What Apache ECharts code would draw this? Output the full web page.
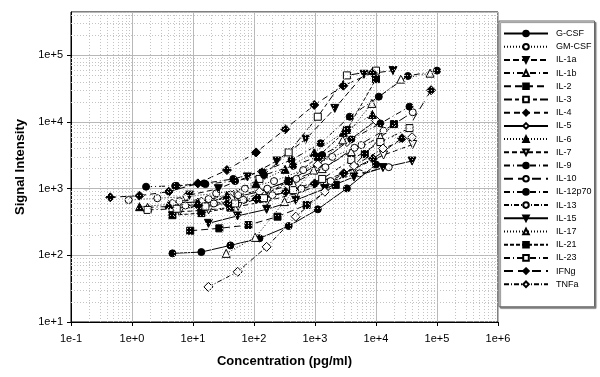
<!DOCTYPE html>
<html>
<head>
<meta charset="utf-8">
<title>Signal vs concentration</title>
<script src="https://cdn.jsdelivr.net/npm/echarts@6/dist/echarts.min.js"></script>
<style>
  html, body { margin: 0; padding: 0; background: #fff; }
  #main { width: 600px; height: 377px; }
</style>
</head>
<body>
<div id="main"></div>
<script>
// cytokine names (legend order)
var names = ['G-CSF', 'GM-CSF', 'IL-1a', 'IL-1b', 'IL-2', 'IL-3', 'IL-4', 'IL-5', 'IL-6', 'IL-7',
  'IL-9', 'IL-10', 'IL-12p70', 'IL-13', 'IL-15', 'IL-17', 'IL-21', 'IL-23', 'IFNg', 'TNFa'];

// concentration (pg/ml) and signal
var gcsfX = [4.6, 13.7, 41, 123, 370, 1111, 3333, 10000];
var gcsfY = [107, 112, 141, 180, 275, 490, 1010, 2300];
var gmcsfX = [0.88, 2.6, 7.9, 24, 71, 213, 640, 1920, 5760];
var gmcsfY = [675, 718, 760, 850, 1000, 1300, 1900, 3000, 4500];
var il1aX = [8.7, 26, 78, 235, 704, 2113, 6340, 19000];
var il1aY = [800, 1000, 1500, 2600, 5500, 16000, 52000, 59000];
var il1bX = [1.8, 5.4, 16, 49, 146, 437, 1312, 3936, 11800];
var il1bY = [524, 545, 590, 680, 850, 1200, 2000, 3600, 6000];
var il2X = [9, 27, 81, 243, 729, 2187, 6561, 19683];
var il2Y = [234, 254, 285, 380, 570, 1140, 3300, 9300];
var il3X = [4.6, 13.7, 41, 123, 370, 1111, 3333, 10000];
var il3Y = [480, 560, 800, 1400, 3500, 12000, 50000, 59000];
var il4X = [0.44, 1.33, 4, 12, 36, 108, 324, 972, 2916, 8748];
var il4Y = [742, 786, 900, 1200, 1900, 3500, 7800, 18000, 35000, 55000];
var il5X = [4.6, 13.7, 41, 123, 370, 1111, 3333, 10000];
var il5Y = [600, 640, 720, 900, 1300, 2300, 5000, 10500];
var il6X = [1.33, 4, 12, 36, 108, 324, 972, 2916, 8748];
var il6Y = [537, 580, 630, 800, 1200, 1950, 3500, 7000, 13000];
var il7X = [6, 18, 55, 165, 494, 1480, 4450, 13300, 40000];
var il7Y = [450, 480, 540, 650, 850, 1200, 2000, 3200, 4600];
var il9X = [1.7, 5.1, 15.2, 45.7, 137, 412, 1235, 3704, 11111, 33333, 100000];
var il9Y = [1070, 1100, 1200, 1400, 1800, 2700, 4800, 12000, 24000, 49000, 59000];
var il10X = [6, 18, 55, 165, 494, 1480, 4440, 13300, 40000];
var il10Y = [650, 700, 800, 1000, 1400, 2100, 4100, 7400, 14000];
var il12X = [5.4, 16, 49, 146, 437, 1312, 3936, 11800, 35400];
var il12Y = [1100, 1170, 1300, 1600, 2200, 3200, 5500, 9500, 17000];
var il13X = [7.5, 22, 67, 200, 600, 1800, 5400, 16200];
var il13Y = [560, 600, 680, 800, 1000, 1300, 1700, 2100];
var il15X = [17.9, 53.7, 161, 483, 1450, 4350, 13000, 39000];
var il15Y = [302, 390, 490, 670, 1000, 1500, 2070, 2600];
var il17X = [35, 105, 316, 950, 2850, 8550, 25600, 77000];
var il17Y = [107, 186, 640, 1900, 5400, 19000, 44000, 54000];
var il21X = [4.6, 13.7, 41, 123, 370, 1111, 3333, 10000];
var il21Y = [400, 430, 520, 720, 1300, 3000, 7600, 44000];
var il23X = [1.8, 5.4, 16, 49, 146, 437, 1312, 3936, 11800, 35400];
var il23Y = [480, 500, 540, 600, 720, 950, 1400, 2700, 5000, 8100];
var ifngX = [12.2, 36.6, 110, 329, 988, 2960, 8900, 26700, 80000];
var ifngY = [560, 600, 700, 900, 1200, 1700, 2800, 5700, 30000];
var tnfaX = [17.9, 54, 161, 483, 1450, 4350, 13000, 39000];
var tnfaY = [33.6, 56.6, 134, 380, 900, 2200, 4000, 5900];

var xs = [gcsfX, gmcsfX, il1aX, il1bX, il2X, il3X, il4X, il5X, il6X, il7X,
  il9X, il10X, il12X, il13X, il15X, il17X, il21X, il23X, ifngX, tnfaX];
var ys = [gcsfY, gmcsfY, il1aY, il1bY, il2Y, il3Y, il4Y, il5Y, il6Y, il7Y,
  il9Y, il10Y, il12Y, il13Y, il15Y, il17Y, il21Y, il23Y, ifngY, tnfaY];

// marker: shape, filled?, rotate
var marks = [
  ['circle', 1, 0], ['circle', 0, 0], ['triangle', 1, 180], ['triangle', 0, 0], ['rect', 1, 0],
  ['rect', 0, 0], ['diamond', 1, 0], ['diamond', 0, 0], ['triangle', 1, 0], ['triangle', 0, 180],
  ['circle', 1, 0], ['circle', 0, 0], ['circle', 1, 0], ['circle', 0, 0], ['triangle', 1, 180],
  ['triangle', 0, 0], ['rect', 1, 0], ['rect', 0, 0], ['diamond', 1, 0], ['diamond', 0, 0]
];
var dashes = [
  'solid', [1, 2], [6, 3], [6, 3, 1, 3], [7, 4],
  [8, 3, 4, 3], [6, 4], 'solid', [1, 2], [5, 3],
  [6, 3, 1, 3], [9, 5], [6, 3, 1, 3], [5, 2, 1, 2], 'solid',
  [1, 2], [4, 2], [6, 3, 1, 3], [9, 5], [5, 2, 1, 2]
];
var symSize = { circle: 7, rect: 7, triangle: 8, diamond: 9 };

var series = [];
names.forEach(function (n, i) {
  var m = marks[i];
  series.push({
    name: n,
    type: 'line',
    z: 3,
    data: xs[i].map(function (x, j) { return [x, ys[i][j]]; }),
    symbol: m[0],
    symbolSize: symSize[m[0]],
    symbolRotate: m[2],
    showAllSymbol: true,
    lineStyle: { color: '#000', width: 1, type: dashes[i] },
    itemStyle: { color: m[1] ? '#000' : '#fff', borderColor: '#000', borderWidth: 1 }
  });
});

// log minor grid (2..9 in each decade), dotted
var minorLines = [];
for (var e = -1; e <= 5; e++) {
  for (var k = 2; k <= 9; k++) minorLines.push({ xAxis: k * Math.pow(10, e) });
}
for (var e2 = 1; e2 <= 5; e2++) {
  for (var k2 = 2; k2 <= 9; k2++) {
    if (k2 * Math.pow(10, e2) < 440000) minorLines.push({ yAxis: k2 * Math.pow(10, e2) });
  }
}
series.push({
  name: 'grid',
  type: 'line',
  z: 1,
  data: [],
  silent: true,
  markLine: {
    silent: true,
    symbol: ['none', 'none'],
    label: { show: false },
    lineStyle: { color: '#c4c4c4', width: 1, type: [1, 2] },
    data: minorLines
  }
});

function sci(v) {
  var l = Math.log10(v);
  if (Math.abs(l - Math.round(l)) > 1e-6) return '';
  var p = Math.round(l);
  return '1e' + (p < 0 ? '-' : '+') + Math.abs(p);
}

var chart = echarts.init(document.getElementById('main'));
chart.setOption({
  animation: false,
  backgroundColor: '#fff',
  textStyle: { fontFamily: 'Liberation Sans, Arial, sans-serif' },
  grid: { left: 71, right: 102, top: 12, bottom: 55, show: true, borderColor: '#000', borderWidth: 1 },
  legend: {
    data: names,
    orient: 'vertical',
    left: 499,
    top: 21,
    padding: [8, 3, 18, 4],
    itemWidth: 44,
    itemHeight: 7,
    itemGap: 4.2,
    borderColor: '#666',
    borderWidth: 1,
    backgroundColor: '#fff',
    shadowColor: 'rgba(0,0,0,0.45)',
    shadowBlur: 1,
    shadowOffsetX: 1.5,
    shadowOffsetY: 1.5,
    textStyle: { fontFamily: 'Liberation Sans, Arial, sans-serif', fontSize: 9, lineHeight: 9, color: '#000', padding: [0, 0, 0, 3] }
  },
  xAxis: {
    type: 'log',
    min: 0.1,
    max: 1000000,
    splitNumber: 7,
    name: 'Concentration (pg/ml)',
    nameLocation: 'middle',
    nameGap: 33,
    nameTextStyle: { fontSize: 13, fontWeight: 'bold', color: '#000' },
    axisLine: { lineStyle: { color: '#000', width: 1 } },
    axisTick: { inside: false, length: 4, lineStyle: { color: '#000' } },
    axisLabel: { formatter: sci, fontSize: 11, color: '#000', margin: 11 },
    splitLine: { show: true, lineStyle: { color: '#b8b8b8', width: 1 } }
  },
  yAxis: {
    type: 'log',
    min: 10,
    max: 446684,
    splitNumber: 5,
    name: 'Signal Intensity',
    nameLocation: 'middle',
    nameGap: 41,
    nameTextStyle: { fontSize: 13, fontWeight: 'bold', color: '#000' },
    axisLine: { lineStyle: { color: '#000', width: 1 } },
    axisTick: { inside: false, length: 4, lineStyle: { color: '#000' } },
    axisLabel: { formatter: sci, fontSize: 11, color: '#000', margin: 8, showMaxLabel: false },
    splitLine: { show: true, lineStyle: { color: '#b8b8b8', width: 1 } }
  },
  series: series
});
</script>
</body>
</html>
